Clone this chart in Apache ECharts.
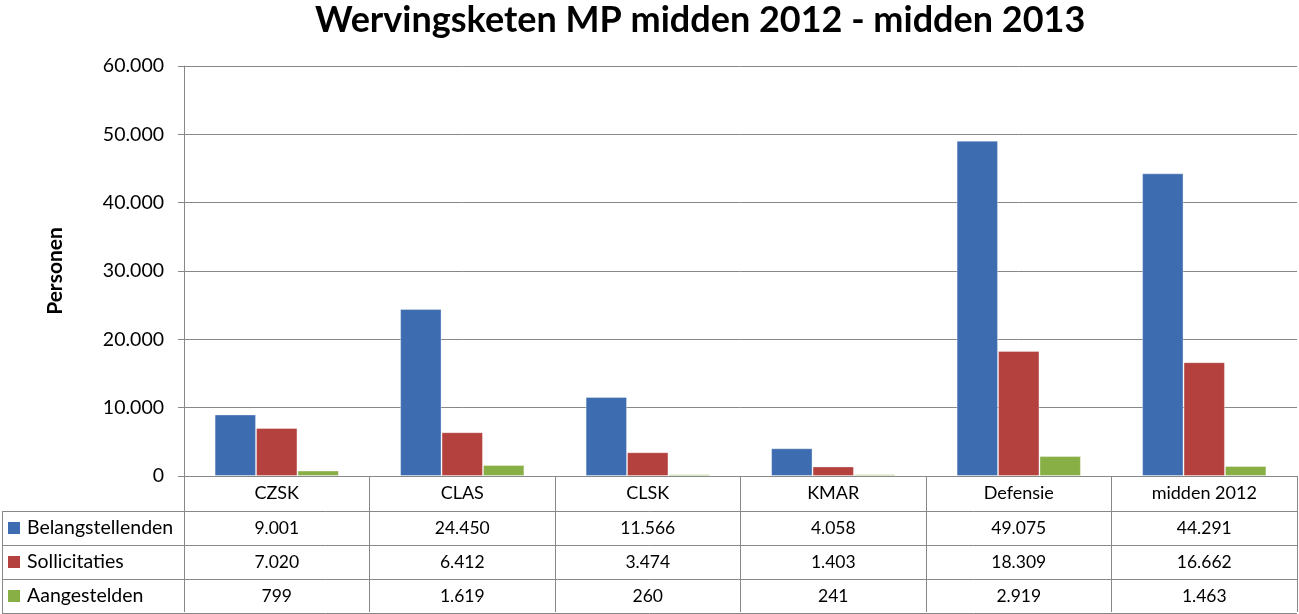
<!DOCTYPE html>
<html><head><meta charset="utf-8">
<script src="https://cdn.jsdelivr.net/npm/echarts@6/dist/echarts.min.js"></script>
<style>html,body{margin:0;padding:0;background:#fff}#c{width:1299px;height:614px}</style>
</head><body><div id="c"></div>
<script>
const title = 'Wervingsketen MP midden 2012 - midden 2013';
const yAxisName = 'Personen';
const categories = ['CZSK', 'CLAS', 'CLSK', 'KMAR', 'Defensie', 'midden 2012'];
const seriesNames = ['Belangstellenden', 'Sollicitaties', 'Aangestelden'];
const belangstellenden = [9001, 24450, 11566, 4058, 49075, 44291];
const sollicitaties = [7020, 6412, 3474, 1403, 18309, 16662];
const aangestelden = [799, 1619, 260, 241, 2919, 1463];
const yMin = 0, yMax = 60000, yStep = 10000;
const colors = ['#3D6CB0', '#B4413D', '#87AF46'];
const allValues = [belangstellenden, sollicitaties, aangestelden];

const FONT = 'Lato';
const fmt = n => String(n).replace(/\B(?=(\d{3})+(?!\d))/g, '.');

const G = {left: 184, right: 2, top: 66, bottom: 138};
const rowH = 34;
const tableLeft = 2;

const chart = echarts.init(document.getElementById('c'), null, {renderer: 'canvas'});
const option = {
  animation: false,
  backgroundColor: '#fff',
  textStyle: {fontFamily: FONT},
  title: {
    text: title, left: 310, top: -3,
    textStyle: {fontFamily: FONT, fontSize: 36, fontWeight: 'bold', color: '#000'}
  },
  grid: {left: G.left, right: G.right, top: G.top, bottom: G.bottom, containLabel: false},
  xAxis: {
    type: 'category', data: categories,
    axisLine: {show: true, lineStyle: {color: '#888', width: 1}},
    axisTick: {show: true, length: 136, interval: 0, lineStyle: {color: '#888', width: 1}},
    axisLabel: {interval: 0, fontSize: 18, color: '#000', margin: 8, fontFamily: FONT}
  },
  yAxis: {
    type: 'value', min: yMin, max: yMax, interval: yStep,
    name: yAxisName, nameLocation: 'middle', nameRotate: 90, nameGap: 118,
    nameTextStyle: {fontSize: 21, fontWeight: 'bold', color: '#000', fontFamily: FONT},
    axisLine: {show: true, lineStyle: {color: '#888', width: 1}},
    axisTick: {show: true, length: 6, lineStyle: {color: '#888'}},
    splitLine: {show: true, lineStyle: {color: '#888', width: 1}},
    axisLabel: {fontSize: 19.5, color: '#000', margin: 20, fontFamily: FONT, formatter: v => fmt(v)}
  },
  series: seriesNames.map((name, i) => ({
    name, type: 'bar', data: allValues[i],
    barGap: '0%', barCategoryGap: '33%',
    itemStyle: {color: colors[i], borderColor: 'rgba(255,255,255,0.35)', borderWidth: 1}
  }))
};
chart.setOption(option);

// Data table below the axis
const zeroY = chart.convertToPixel({yAxisIndex: 0}, 0);
const x0 = chart.convertToPixel({xAxisIndex: 0}, categories[0]);
const x1 = chart.convertToPixel({xAxisIndex: 0}, categories[1]);
const band = x1 - x0;
const plotRight = x0 - band / 2 + band * categories.length;
const headerBottom = zeroY + 35;
const elems = [];
const lineStyle = {stroke: '#888', lineWidth: 1};
for (let r = 0; r <= seriesNames.length; r++) {
  const y = Math.round(headerBottom + r * rowH) + 0.5;
  elems.push({type: 'line', shape: {x1: tableLeft, y1: y, x2: plotRight, y2: y}, style: lineStyle, silent: true});
}
elems.push({type: 'line', shape: {x1: tableLeft + 0.5, y1: Math.round(headerBottom) + 0.5, x2: tableLeft + 0.5, y2: Math.round(headerBottom + seriesNames.length * rowH) + 0.5}, style: lineStyle, silent: true});
seriesNames.forEach((name, r) => {
  const cy = headerBottom + r * rowH + rowH / 2;
  elems.push({type: 'rect', shape: {x: 8, y: cy - 6, width: 12, height: 12}, style: {fill: colors[r]}, silent: true});
  elems.push({type: 'text', x: 27, y: cy, style: {text: name, fontSize: 19.5, fontFamily: FONT, fill: '#000', align: 'left', verticalAlign: 'middle'}, silent: true});
  categories.forEach((c, j) => {
    const cx = chart.convertToPixel({xAxisIndex: 0}, c);
    elems.push({type: 'text', x: cx, y: cy, style: {text: fmt(allValues[r][j]), fontSize: 17.5, fontFamily: FONT, fill: '#000', align: 'center', verticalAlign: 'middle'}, silent: true});
  });
});
chart.setOption({graphic: {elements: elems}});
</script>
</body></html>
